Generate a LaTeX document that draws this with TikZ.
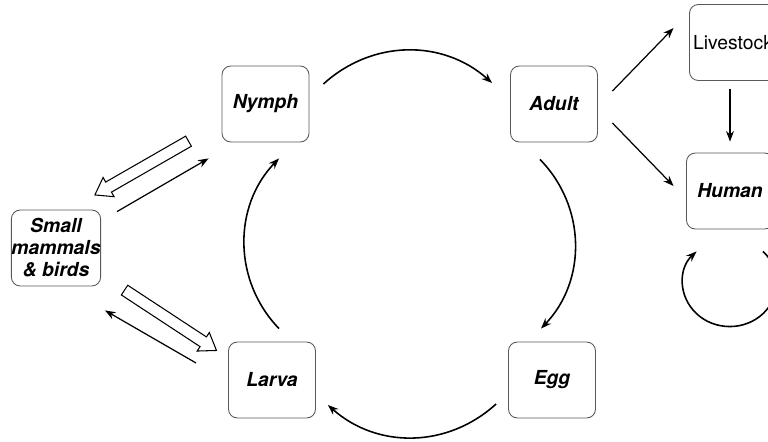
\documentclass[tikz,border=0pt]{standalone}
\usepackage{fontspec}
\setmainfont{TeX Gyre Heros}
\usetikzlibrary{arrows.meta, shapes.arrows, calc}

\begin{document}
\begin{tikzpicture}[
    x=0.02cm, y=-0.02cm, % pixel-like units, y pointing down
    stage/.style={rectangle, draw=black!65, line width=0.5pt, rounded corners=5pt, minimum width=1.74cm, minimum height=1.52cm, inner xsep=0pt, align=center, font=\fontsize{11}{12.5}\selectfont\bfseries\itshape},
    cyc/.style={draw, line width=0.9pt, -{Stealth[length=6pt, width=4.5pt]}},
    line/.style={draw, line width=0.7pt, -{Stealth[length=6pt, width=4.5pt]}},
    fat/.style={single arrow, draw, fill=white, line width=0.6pt, inner xsep=0pt, inner ysep=3pt, minimum width=12pt, single arrow head extend=3pt, single arrow tip angle=70, sloped, allow upside down}
]
    \useasboundingbox (0,0) rectangle (768,441);
    \clip (0,0) rectangle (768,441);

    % Stages of the cycle
    \node [stage] (nymph) at (265.5,104) {Nymph};
    \node [stage] (adult) at (554,104) {Adult};
    \node [stage] (larva) at (272,380) {Larva};
    \node [stage] (egg) at (552,380) {Egg};

    % Hosts
    \node [stage] (small) at (56,248) {Small\\mammals\\\& birds};
    \node [stage, font=\fontsize{11}{12.5}\selectfont] (livestock) at (733,42.5) {Livestock};
    \node [stage] (human) at (730,191) {Human};

    % Cycle
    \draw [cyc] ($(nymph.east)+(14,-20)$) to[bend left=42] ($(adult.west)+(-18,-21)$);
    \draw [cyc] ($(adult.south)+(-14,17)$) to[bend left=44] ($(egg.north)+(-11,-13)$);
    \draw [cyc] ($(egg.west)+(-12,24)$) to[bend left=42] ($(larva.east)+(12,25)$);
    \draw [cyc] ($(larva.north)+(7,-13)$) to[bend left=44] ($(nymph.south)+(13.5,16)$);

    % Adult to hosts
    \draw [line] ($(adult.east)+(14.5,-13)$) -- ($(livestock.west)+(-15.5,-14.5)$);
    \draw [line] ($(adult.east)+(14.5,19)$) -- ($(human.west)+(-12.5,-5)$);
    \draw [line] ($(livestock.south)+(-3,8)$) -- ($(human.north)+(0,-11)$);
    \draw [cyc] ($(human.south)+(33,22)$) arc[start angle=-45, end angle=225, x radius=47, y radius=44];

    % Small mammals & birds
    \path ($(nymph.south west)+(-30,-3)$) -- node[fat, minimum height=2.16cm] (toSmall) {} ($(small.north east)+(-2,-17)$);
    \draw [line] ($(small.north east)+(16,2)$) -- ($(nymph.south west)+(-13,16)$);
    \path ($(small.south east)+(21,2)$) -- node[fat, minimum height=2.2cm] (toLarva) {} ($(larva.north west)+(-16,6)$);
    \draw [line] ($(larva.west)+(-32,-17)$) -- ($(small.south east)+(4,24)$);
\end{tikzpicture}
\end{document}
